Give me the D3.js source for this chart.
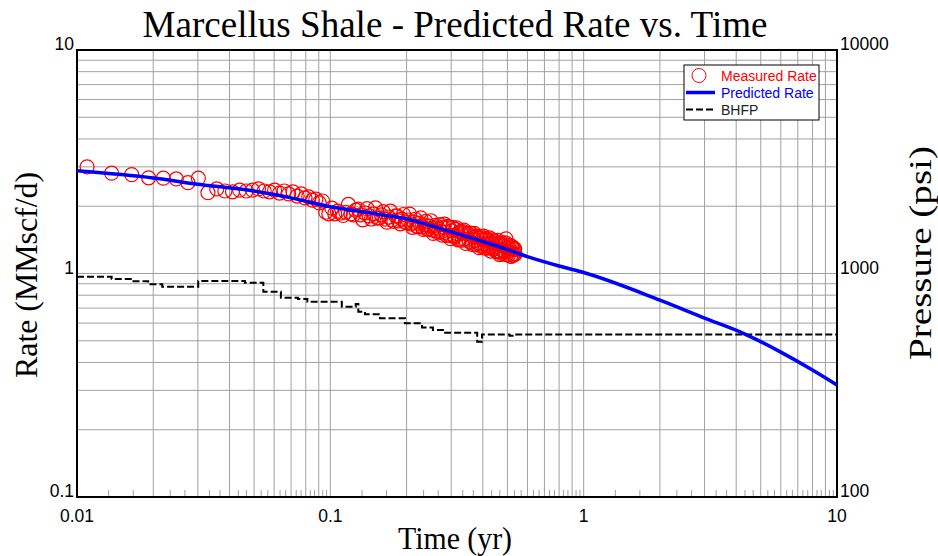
<!DOCTYPE html>
<html>
<head>
<meta charset="utf-8">
<script src="https://cdn.jsdelivr.net/npm/d3@7"></script>
<style>
  html, body { margin: 0; padding: 0; background: #fff; }
  svg { display: block; }
</style>
</head>
<body>
<svg id="chart" width="938" height="556"></svg>
<script>
// ---------------- DATA ----------------
const title = "Marcellus Shale - Predicted Rate vs. Time";
const xLabel = "Time (yr)";
const yLabel = "Rate (MMscf/d)";
const y2Label = "Pressure (psi)";

const xTicks = [0.01, 0.1, 1, 10];
const xTickLabels = ["0.01", "0.1", "1", "10"];
const yTicks = [0.1, 1, 10];
const yTickLabels = ["0.1", "1", "10"];
const y2Ticks = [100, 1000, 10000];
const y2TickLabels = ["100", "1000", "10000"];

const legendLabels = ["Measured Rate", "Predicted Rate", "BHFP"];

// Measured rate (daily production: days on production -> MMscf/d)
const measuredDays = [
  4,5,6,7,8,9,10,11,12,13,14,15,16,17,18,19,20,21,22,23,24,25,26,27,28,29,30,31,32,33,34,35,36,37,38,39,40,
  42,44,46,48,50,52,54,56,58,60,62,64,66,68,70,72,74,76,78,80,82,84,86,88,90,92,94,96,98,100,
  102,104,106,108,110,112,114,116,118,120,122,124,126,128,130,132,134,136,138,140,142,144,146,148,150,
  152,154,156,158,160,162,164,166,168,170,172,174,176,178,180,182,184,186,188,190,192,194,196,
  41,43,45,47,49,51,53,55,57,59,61,63,65,67,69,71,73,75,77,79,81,83,85,87,89,91,93,95,97,99,
  101,103,105,107,109,111,113,115,117,119,121,123,125,127,129,131,133,135,137,139,141,143,145,147,
  149,151,153,155,157,159,161,163,165,167,169,171,173,175,177,179,181,183,185,187,189,191,193,195
];
const measuredRate = [
  3.00,2.81,2.77,2.68,2.67,2.65,2.55,2.67,2.30,2.39,2.34,2.32,2.36,2.34,2.36,2.39,2.34,2.32,2.36,2.29,2.34,2.27,2.32,2.22,2.27,2.18,2.20,2.13,2.15,2.07,2.11,1.88,1.85,1.96,1.85,1.90,1.865,
  1.88,1.85,1.92,1.83,1.865,1.81,1.85,1.77,1.83,1.75,1.79,1.735,1.81,1.72,1.75,1.70,1.735,1.665,1.70,1.63,1.68,1.615,1.65,1.58,1.63,1.565,1.60,1.55,1.58,1.534,
  1.613,1.526,1.625,1.478,1.55,1.479,1.577,1.507,1.423,1.519,1.539,1.427,1.506,1.425,1.518,1.380,1.459,1.408,1.471,1.364,1.441,1.322,1.418,1.355,1.432,
  1.330,1.406,1.304,1.366,1.40,1.313,1.362,1.263,1.363,1.215,1.364,1.268,1.328,1.245,1.43,1.30,1.255,1.289,1.196,1.306,1.224,1.28,1.222,
  1.818,2.037,1.829,1.943,1.739,1.95,1.753,1.966,1.771,1.89,1.697,1.90,1.71,1.808,1.669,1.836,1.685,1.844,1.609,1.749,1.615,1.775,1.575,1.71,1.584,1.722,1.511,1.642,1.52,1.654,
  1.485,1.664,1.482,1.612,1.432,1.607,1.459,1.602,1.412,1.538,1.41,1.564,1.363,1.516,1.392,1.514,1.348,1.512,1.347,1.452,1.305,1.466,1.336,1.469,
  1.297,1.429,1.30,1.443,1.26,1.416,1.289,1.392,1.252,1.406,1.254,1.354,1.231,1.37,1.248,1.373,1.213,1.335,1.215,1.338,1.194,1.316,1.208,1.288
];

// Predicted rate (years -> MMscf/d)
const predTime = [0.01, 0.02, 0.03, 0.05, 0.07, 0.1, 0.144, 0.2, 0.3, 0.4, 0.5, 0.6, 0.8, 1, 2, 3, 4.33, 6, 8, 10];
const predRate = [2.88, 2.675, 2.51, 2.34, 2.18, 1.99, 1.865, 1.755, 1.535, 1.39, 1.28, 1.19, 1.08, 1.01, 0.76, 0.632, 0.536, 0.445, 0.37, 0.317];

// Bottom-hole flowing pressure (years -> psi), step series
const bhfpTime = [0.01, 0.0137, 0.0165, 0.0191, 0.0217, 0.0301, 0.046, 0.0544, 0.0638, 0.0745, 0.0812, 0.111, 0.126, 0.129, 0.137, 0.157, 0.197, 0.230, 0.254, 0.284, 0.38, 0.397, 0.51, 0.53, 10];
const bhfpPressure = [967, 945, 923, 895, 873, 926, 910, 829, 779, 769, 748, 710, 730, 675, 657, 630, 599, 574, 559, 543, 495, 534, 527, 534, 534];

// ---------------- CHART ----------------
const svg = d3.select("#chart");
const L = 77, R = 837, T = 50, B = 497;

const x = d3.scaleLog().domain([0.01, 10]).range([L, R]);
const y = d3.scaleLog().domain([0.1, 10]).range([B, T]);
const y2 = d3.scaleLog().domain([100, 10000]).range([B, T]);

const sans = "'Liberation Sans', Arial, sans-serif";
const serif = "'Liberation Serif', 'Times New Roman', serif";

function decadeValues(lo, hi) {
  const out = [];
  for (let e = Math.round(Math.log10(lo)); e < Math.round(Math.log10(hi)); e++) {
    for (let k = 1; k <= 9; k++) out.push(k * Math.pow(10, e));
  }
  out.push(hi);
  return out;
}
const xGrid = decadeValues(0.01, 10);
const yGrid = decadeValues(0.1, 10);

const grid = svg.append("g").attr("stroke", "#a0a0a0").attr("stroke-width", 1);
grid.selectAll("line.v").data(xGrid).join("line")
  .attr("x1", d => x(d)).attr("x2", d => x(d)).attr("y1", T).attr("y2", B);
grid.selectAll("line.h").data(yGrid).join("line")
  .attr("y1", d => y(d)).attr("y2", d => y(d)).attr("x1", L).attr("x2", R);

// minor ticks at bottom (thirds)
const xMinor = [];
for (let e = -2; e < 1; e++) for (let k = 1; k <= 9; k++) {
  xMinor.push((k + 1/3) * Math.pow(10, e));
  xMinor.push((k + 2/3) * Math.pow(10, e));
}
svg.append("g").attr("stroke", "#a0a0a0").attr("stroke-width", 1)
  .selectAll("line").data(xMinor.filter(d => d < 10)).join("line")
  .attr("x1", d => x(d)).attr("x2", d => x(d)).attr("y1", B).attr("y2", B - 7);

// frame
svg.append("rect").attr("x", L).attr("y", T).attr("width", R - L).attr("height", B - T)
  .attr("fill", "none").attr("stroke", "#000").attr("stroke-width", 2);

// BHFP
const bhfpLine = d3.line().curve(d3.curveStepAfter)
  .x((d, i) => x(bhfpTime[i])).y((d, i) => y2(bhfpPressure[i]));
svg.append("path").attr("d", bhfpLine(bhfpTime))
  .attr("fill", "none").attr("stroke", "#000").attr("stroke-width", 2)
  .attr("stroke-dasharray", "7,3");

// measured
svg.append("g").selectAll("circle").data(measuredDays).join("circle")
  .attr("cx", d => x(d / 365)).attr("cy", (d, i) => y(measuredRate[i]))
  .attr("r", 7).attr("fill", "none").attr("stroke", "#ff0000").attr("stroke-width", 1.2);

// predicted
const predLine = d3.line().curve(d3.curveMonotoneX)
  .x((d, i) => x(predTime[i])).y((d, i) => y(predRate[i]));
svg.append("path").attr("d", predLine(predTime))
  .attr("fill", "none").attr("stroke", "#0000ff").attr("stroke-width", 3.5);

// tick labels
svg.append("g").selectAll("text").data(xTicks).join("text")
  .attr("x", d => x(d)).attr("y", 522).attr("text-anchor", "middle")
  .attr("font-family", sans).attr("font-size", 17.5).text((d, i) => xTickLabels[i]);
svg.append("g").selectAll("text").data(yTicks).join("text")
  .attr("x", 74).attr("y", d => y(d)).attr("text-anchor", "end")
  .attr("font-family", sans).attr("font-size", 17.5).text((d, i) => yTickLabels[i]);
svg.append("g").selectAll("text").data(y2Ticks).join("text")
  .attr("x", 840).attr("y", d => y2(d)).attr("text-anchor", "start")
  .attr("font-family", sans).attr("font-size", 17.5).text((d, i) => y2TickLabels[i]);

// title and axis labels
svg.append("text").attr("x", 455).attr("y", 37).attr("text-anchor", "middle")
  .attr("font-family", serif).attr("font-size", 38)
  .attr("textLength", 625).attr("lengthAdjust", "spacingAndGlyphs").text(title);
svg.append("text").attr("x", 455).attr("y", 549).attr("text-anchor", "middle")
  .attr("font-family", serif).attr("font-size", 31)
  .attr("textLength", 114).attr("lengthAdjust", "spacingAndGlyphs").text(xLabel);
svg.append("text").attr("transform", "translate(37,275) rotate(-90)").attr("text-anchor", "middle")
  .attr("font-family", serif).attr("font-size", 31)
  .attr("textLength", 206).attr("lengthAdjust", "spacingAndGlyphs").text(yLabel);
svg.append("text").attr("transform", "translate(931,253) rotate(-90)").attr("text-anchor", "middle")
  .attr("font-family", serif).attr("font-size", 31)
  .attr("textLength", 214).attr("lengthAdjust", "spacingAndGlyphs").text(y2Label);

// legend
const lg = svg.append("g");
lg.append("rect").attr("x", 684).attr("y", 65).attr("width", 135).attr("height", 55)
  .attr("fill", "#fff").attr("stroke", "#000").attr("stroke-width", 1);
lg.append("circle").attr("cx", 699).attr("cy", 75.5).attr("r", 7)
  .attr("fill", "none").attr("stroke", "#ff0000");
lg.append("line").attr("x1", 686).attr("x2", 715).attr("y1", 92.5).attr("y2", 92.5)
  .attr("stroke", "#0000ff").attr("stroke-width", 3.5);
lg.append("line").attr("x1", 686).attr("x2", 715).attr("y1", 109.5).attr("y2", 109.5)
  .attr("stroke", "#000").attr("stroke-width", 2).attr("stroke-dasharray", "7,3");
const legendColors = ["#ff0000", "#0000ff", "#222"];
lg.selectAll("text.l").data(legendLabels).join("text")
  .attr("x", 721).attr("y", (d, i) => 80.5 + i * 17)
  .attr("font-family", sans).attr("font-size", 14)
  .attr("fill", (d, i) => legendColors[i]).text(d => d);
</script>
</body>
</html>
